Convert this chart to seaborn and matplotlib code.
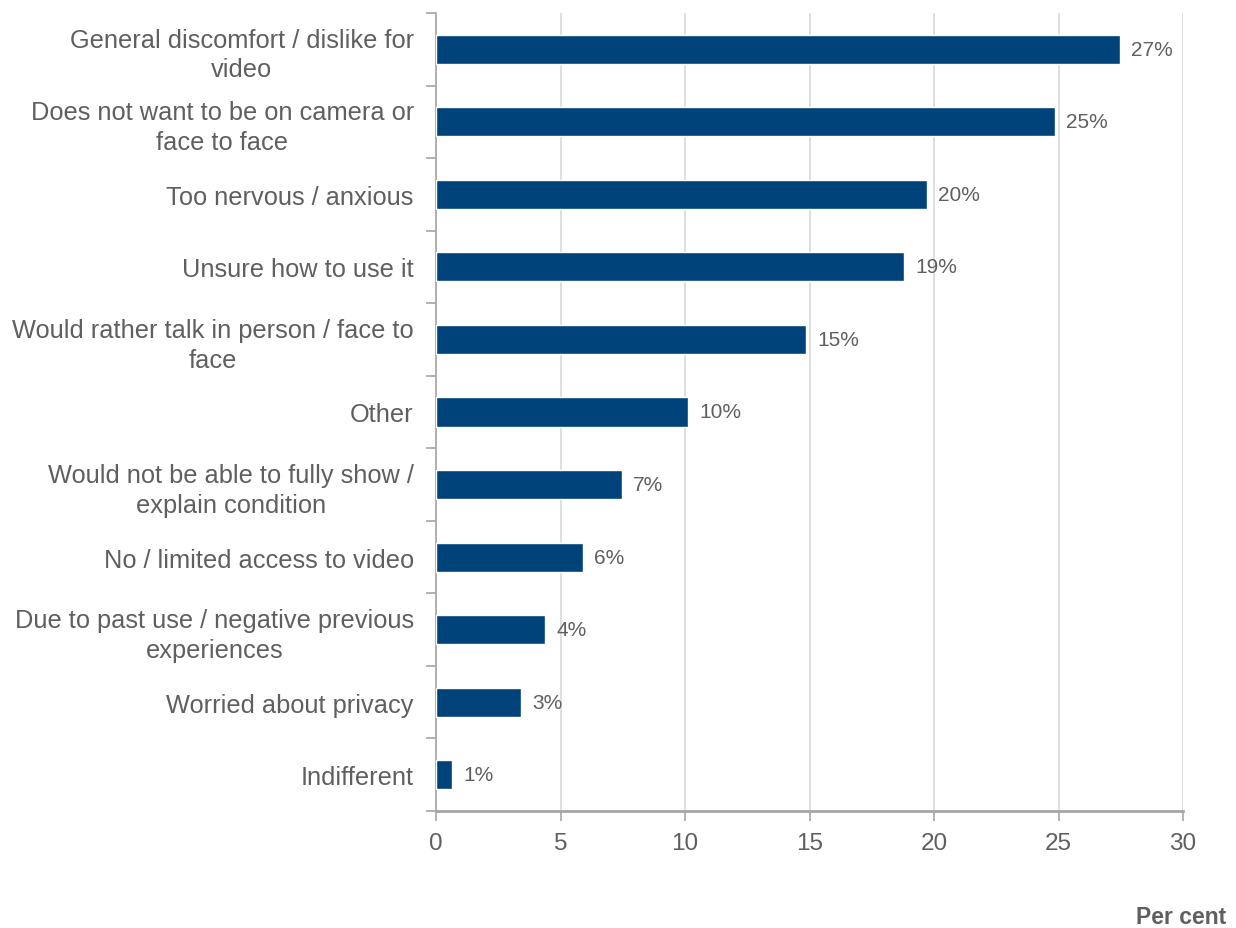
import matplotlib
matplotlib.use("Agg")
import matplotlib.pyplot as plt
from matplotlib.ticker import FixedLocator
import pandas as pd
import seaborn as sns

categories = [
    "General discomfort / dislike for\nvideo",
    "Does not want to be on camera or\nface to face",
    "Too nervous / anxious",
    "Unsure how to use it",
    "Would rather talk in person / face to\nface",
    "Other",
    "Would not be able to fully show /\nexplain condition",
    "No / limited access to video",
    "Due to past use / negative previous\nexperiences",
    "Worried about privacy",
    "Indifferent",
]
values = [27.45, 24.84, 19.70, 18.80, 14.86, 10.11, 7.45, 5.89, 4.39, 3.40, 0.66]
x_ticks = [0, 5, 10, 15, 20, 25, 30]
x_label = "Per cent"

df = pd.DataFrame({"reason": categories, "pct": values})

sns.set_theme(style="white")
plt.rcParams["font.family"] = ["Liberation Sans", "DejaVu Sans"]

text_grey = "#5f5f5f"
bar_blue = "#00427a"

fig = plt.figure(figsize=(12.36, 9.29), dpi=100)
ax = fig.add_axes([436 / 1236, 1 - 812 / 929, (1183 - 436) / 1236, (812 - 14) / 929])

sns.barplot(data=df, x="pct", y="reason", orient="h", color=bar_blue,
            saturation=1, width=0.4, ax=ax, zorder=3)

ax.set_xlim(0, 30)
ax.set_ylim(len(categories) - 0.5, -0.5)
ax.set_xticks(x_ticks)
ax.set_xticklabels([str(t) for t in x_ticks])
ax.set_xlabel("")
ax.set_ylabel("")

# vertical gridlines
ax.grid(axis="x", color="#d9d9d9", linewidth=1.2, zorder=0)
ax.grid(axis="y", visible=False)

# category labels; tick marks sit between categories
ax.tick_params(axis="y", which="major", length=0, pad=16, labelsize=18.3,
               labelcolor=text_grey)
ax.yaxis.set_minor_locator(FixedLocator([i - 0.5 for i in range(len(categories) + 1)]))
ax.tick_params(axis="y", which="minor", length=7, width=1.2, color="#a6a6a6", left=True)
for lbl in ax.get_yticklabels():
    lbl.set_horizontalalignment("right")
    lbl.set_multialignment("center")
    lbl.set_linespacing(1.3)

ax.tick_params(axis="x", which="major", length=7, width=1.2, color="#a6a6a6",
               labelsize=17.5, labelcolor=text_grey, pad=8, bottom=True)

for side in ["top", "right"]:
    ax.spines[side].set_visible(False)
ax.spines["left"].set_color("#a6a6a6")
ax.spines["left"].set_linewidth(1.2)
ax.spines["bottom"].set_color("#a6a6a6")
ax.spines["bottom"].set_linewidth(2)

# value labels
for i, v in enumerate(values):
    ax.text(v + 0.45, i, f"{round(v)}%", va="center", ha="left",
            fontsize=15, color=text_grey)

fig.text(1226 / 1236, 1 - 918 / 929, x_label, ha="right", va="center",
         fontsize=16.5, fontweight="bold", color=text_grey)

fig.savefig("out.png", dpi=100)
